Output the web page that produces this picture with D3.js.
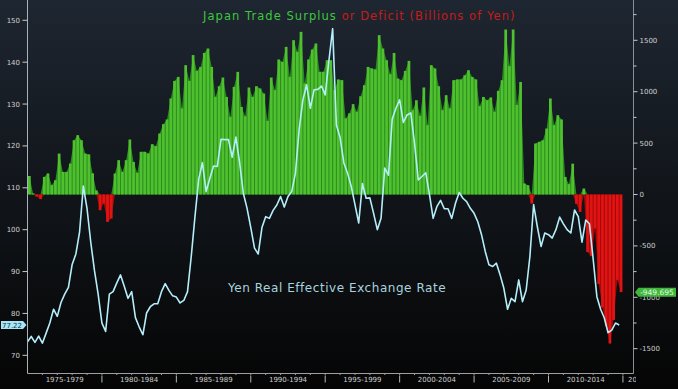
<!DOCTYPE html>
<html>
<head>
<meta charset="utf-8">
<script src="https://cdn.jsdelivr.net/npm/d3@7"></script>
<style>
  html, body { margin: 0; padding: 0; background: #050505; }
  svg { display: block; }
  text { font-family: "DejaVu Sans", sans-serif; }
</style>
</head>
<body>
<svg id="chart" width="678" height="389"></svg>
<script>
// quarterly data, starting 1975 Q1
var startYear = 1975;

// Japan trade balance, billions of yen
var tradeBalance = [
  180, 10, -20, -45, 171, 205, 91, 139, 398, 220,
  220, 301, 528, 577, 528, 398, 390, 206, 40, -153,
  -88, -267, -233, 204, 334, 220, 334, 535, 317, 210,
  415, 415, 398, 489, 470, 593, 684, 730, 934, 1105,
  1144, 837, 1258, 1105, 1356, 1202, 1241, 1377, 1420, 1241,
  949, 1053, 1138, 949, 755, 1047, 1193, 852, 761, 1041,
  949, 1053, 1031, 982, 716, 1138, 1015, 1313, 1290, 1436,
  1144, 1501, 1387, 1582, 1080, 1313, 1410, 1469, 1193, 1193,
  1306, 1306, 1015, 1119, 1112, 740, 789, 879, 804, 955,
  1063, 1241, 1226, 1216, 1550, 1420, 1306, 1170, 1377, 1128,
  1112, 1202, 1300, 820, 917, 765, 1041, 674, 1258, 1226,
  1053, 820, 966, 837, 1112, 1119, 1119, 1160, 1209, 1144,
  1119, 859, 949, 917, 944, 804, 1008, 1112, 1605, 1248,
  1605, 871, 1095, 107, 90, -88, 496, 512, 528, 642,
  934, 674, 771, 730, 171, 100, 300, -90, -170, 58,
  -560, -600, -330, -870, -1100, -1280, -1450, -1220, -830, -949.695
];

// Yen real effective exchange rate
var yenReer = [
  73.2, 74.5, 73.1, 74.6, 72.9, 75.3, 77.7, 81, 79.3, 82.6,
  84.6, 86.2, 91.7, 94.2, 99.5, 110.4, 105, 97, 90.2, 84.5,
  77.7, 75.7, 84.6, 85.2, 87.3, 89.2, 86.5, 83.6, 85.2, 79,
  76.8, 74.9, 80.1, 81.6, 82.3, 82.3, 85.2, 87.1, 85.5, 84.2,
  83.9, 82.5, 83.1, 85.2, 93.6, 103.1, 112, 116, 109.1, 112.3,
  115.2, 115.1, 121.6, 121.5, 121.5, 117.3, 122.1, 116, 108.7, 105.1,
  100.5, 95.6, 94.2, 100.5, 103.1, 102.7, 104.6, 105.9, 107.9, 105.4,
  107.9, 109.1, 113.5, 124, 131, 134.6, 129, 133.4, 133.5, 134.3,
  132.2, 140.4, 148, 125, 122, 116, 113.5, 110.3, 106, 101.6,
  111, 107.5, 107.6, 103.9, 100, 102.7, 114.7, 113, 126.4, 129,
  131, 125.6, 127.4, 127.9, 120.6, 111.9, 112.7, 113.6, 108.5, 102.7,
  105.5, 107, 105, 105, 102.7, 106.3, 108.9, 107.5, 106.7, 105.1,
  103.9, 101.9, 98.8, 94.8, 91.6, 91.2, 92, 89.2, 86, 81,
  83.6, 82.8, 88, 82.8, 85.6, 93.6, 106, 100.7, 96, 99.2,
  98.8, 98, 100, 103, 101.4, 100, 99.2, 104.7, 103.1, 97,
  102.3, 101.4, 93, 84, 81, 78.9, 75.4, 76, 77.7, 77.22
];

var leftTicks = [70, 80, 90, 100, 110, 120, 130, 140, 150];
var rightTicks = [-1500, -1000, -500, 0, 500, 1000, 1500];
var rightMinor = [-1250, -750, -250, 250, 750, 1250, 1750];
var periodStarts = [1975, 1980, 1985, 1990, 1995, 2000, 2005, 2010, 2015];

var titleGreen = 'Japan Trade Surplus ';
var titleRed = 'or Deficit (Billions of Yen)';
var lineLabel = 'Yen Real Effective Exchange Rate';

var W = 678, H = 389;
var left = 27.5, right = 633.5, axisY = 373.5;

var svg = d3.select('#chart');

// background
var defs = svg.append('defs');
var grad = defs.append('linearGradient').attr('id', 'bg')
  .attr('x1', 0).attr('y1', 0).attr('x2', 0).attr('y2', 1);
grad.append('stop').attr('offset', '0%').attr('stop-color', '#1e2631');
grad.append('stop').attr('offset', '50%').attr('stop-color', '#11151a');
grad.append('stop').attr('offset', '100%').attr('stop-color', '#050505');
svg.append('rect').attr('width', W).attr('height', H).attr('fill', 'url(#bg)');

defs.append('clipPath').attr('id', 'plot')
  .append('rect').attr('x', left).attr('y', 0).attr('width', right - left).attr('height', axisY);
defs.append('clipPath').attr('id', 'lastlab')
  .append('rect').attr('x', 0).attr('y', 0).attr('width', 636).attr('height', H);

var x = d3.scaleLinear().domain([1975, 2015.71]).range([left, right]);
var yL = d3.scaleLinear().domain([70, 150]).range([355.3, 20.3]);
var yR = d3.scaleLinear().domain([-1500, 1500]).range([348.7, 40.3]);

var qw = x(1975.25) - x(1975);
var bars = tradeBalance.map(function (v, i) {
  return { t: startYear + (i + 0.5) / 4, v: v };
});
var pts = yenReer.map(function (v, i) {
  return { t: startYear + i / 4, v: v };
});

var plot = svg.append('g').attr('clip-path', 'url(#plot)');

// filled background between bars, then the bars
var areaPos = d3.area()
  .x(function (d) { return x(d.t); })
  .y0(yR(0))
  .y1(function (d) { return yR(Math.max(0, d.v)); });
var areaNeg = d3.area()
  .x(function (d) { return x(d.t); })
  .y0(yR(0))
  .y1(function (d) { return yR(Math.min(0, d.v)); });

plot.append('path').datum(bars).attr('d', areaPos).attr('fill', '#2b8a1f');
plot.append('path').datum(bars).attr('d', areaNeg).attr('fill', '#a00a0a');

plot.selectAll('rect.bar').data(bars).enter().append('rect')
  .attr('class', 'bar')
  .attr('x', function (d) { return x(d.t) - qw / 2 + 0.5; })
  .attr('width', qw - 1)
  .attr('y', function (d) { return d.v >= 0 ? yR(d.v) : yR(0); })
  .attr('height', function (d) { return Math.abs(yR(d.v) - yR(0)); })
  .attr('fill', function (d) { return d.v >= 0 ? '#4fc12f' : '#e21313'; });

// REER line
var line = d3.line()
  .x(function (d) { return x(d.t); })
  .y(function (d) { return yL(d.v); });
plot.append('path').datum(pts).attr('d', line)
  .attr('fill', 'none').attr('stroke', '#b4eefa').attr('stroke-width', 1.6)
  .attr('stroke-linejoin', 'round');

// left axis
svg.append('line').attr('x1', left).attr('x2', left).attr('y1', 0).attr('y2', axisY)
  .attr('stroke', '#a9b2bb').attr('stroke-width', 1);
var gl = svg.append('g');
gl.selectAll('line').data(leftTicks).enter().append('line')
  .attr('x1', left - 5).attr('x2', left)
  .attr('y1', function (d) { return yL(d); }).attr('y2', function (d) { return yL(d); })
  .attr('stroke', '#c8c8c8');
gl.selectAll('text').data(leftTicks).enter().append('text')
  .attr('x', 20).attr('y', function (d) { return yL(d) + 2.5; })
  .attr('text-anchor', 'end').attr('font-size', 7).attr('fill', '#d0d0d0')
  .text(function (d) { return d; });

// right axis
svg.append('line').attr('x1', right).attr('x2', right).attr('y1', 0).attr('y2', axisY)
  .attr('stroke', '#8b8f94').attr('stroke-width', 1);
var gr = svg.append('g');
gr.selectAll('line.major').data(rightTicks).enter().append('line')
  .attr('class', 'major')
  .attr('x1', right).attr('x2', right + 4)
  .attr('y1', function (d) { return yR(d); }).attr('y2', function (d) { return yR(d); })
  .attr('stroke', '#c8c8c8');
gr.selectAll('line.minor').data(rightMinor).enter().append('line')
  .attr('class', 'minor')
  .attr('x1', right).attr('x2', right + 3)
  .attr('y1', function (d) { return yR(d); }).attr('y2', function (d) { return yR(d); })
  .attr('stroke', '#c8c8c8');
gr.selectAll('text').data(rightTicks).enter().append('text')
  .attr('x', right + 6).attr('y', function (d) { return yR(d) + 2.5; })
  .attr('font-size', 7).attr('fill', '#d0d0d0')
  .text(function (d) { return d; });

// bottom axis
svg.append('line').attr('x1', left).attr('x2', right).attr('y1', axisY).attr('y2', axisY)
  .attr('stroke', '#9aa0a6');
var gb = svg.append('g');
gb.selectAll('line.sep').data(periodStarts.slice(1)).enter().append('line')
  .attr('class', 'sep')
  .attr('x1', function (d) { return x(d); }).attr('x2', function (d) { return x(d); })
  .attr('y1', axisY + 2).attr('y2', axisY + 9)
  .attr('stroke', '#b8b8b8');
gb.selectAll('line.yr').data(d3.range(1976, 2016)).enter().append('line')
  .attr('class', 'yr')
  .attr('x1', function (d) { return x(d); }).attr('x2', function (d) { return x(d); })
  .attr('y1', axisY).attr('y2', axisY + 1.5)
  .attr('stroke', '#9aa0a6');
gb.selectAll('text').data(periodStarts).enter().append('text')
  .attr('x', function (d) { return d === 2015 ? x(2015) + 5 : x(d + 2.5); })
  .attr('y', axisY + 8)
  .attr('text-anchor', function (d) { return d === 2015 ? 'start' : 'middle'; })
  .attr('clip-path', function (d) { return d === 2015 ? 'url(#lastlab)' : null; })
  .attr('font-size', 7).attr('fill', '#d0d0d0')
  .text(function (d) { return d + '-' + (d + 4); });

// titles
var title = svg.append('text').attr('x', 203).attr('y', 20)
  .attr('font-size', 11.5).attr('letter-spacing', 1.05);
title.append('tspan').attr('fill', '#3ec63e').text(titleGreen);
title.append('tspan').attr('fill', '#c41c1c').text(titleRed);

svg.append('text').attr('x', 228).attr('y', 291.5).attr('font-size', 12)
  .attr('letter-spacing', 0.55)
  .attr('fill', '#a9d3de').text(lineLabel);

// last value tags
var lastReer = yenReer[yenReer.length - 1];
var ly = yL(lastReer);
svg.append('path')
  .attr('d', 'M1,' + (ly - 4) + 'H23L26.5,' + ly + 'L23,' + (ly + 4) + 'H1Z')
  .attr('fill', '#a6e6f6');
svg.append('text').attr('x', 12).attr('y', ly + 2.6).attr('text-anchor', 'middle')
  .attr('font-size', 7).attr('fill', '#16324a').text(lastReer.toFixed(2));

var lastBal = tradeBalance[tradeBalance.length - 1];
var ry = yR(lastBal);
svg.append('path')
  .attr('d', 'M635,' + ry + 'L638.5,' + (ry - 4.5) + 'H676V' + (ry + 4.5) + 'H638.5Z')
  .attr('fill', '#3fb83a');
svg.append('text').attr('x', 657).attr('y', ry + 2.7).attr('text-anchor', 'middle')
  .attr('font-size', 7.5).attr('fill', '#e8f5e8').text(lastBal.toFixed(3));
</script>
</body>
</html>
